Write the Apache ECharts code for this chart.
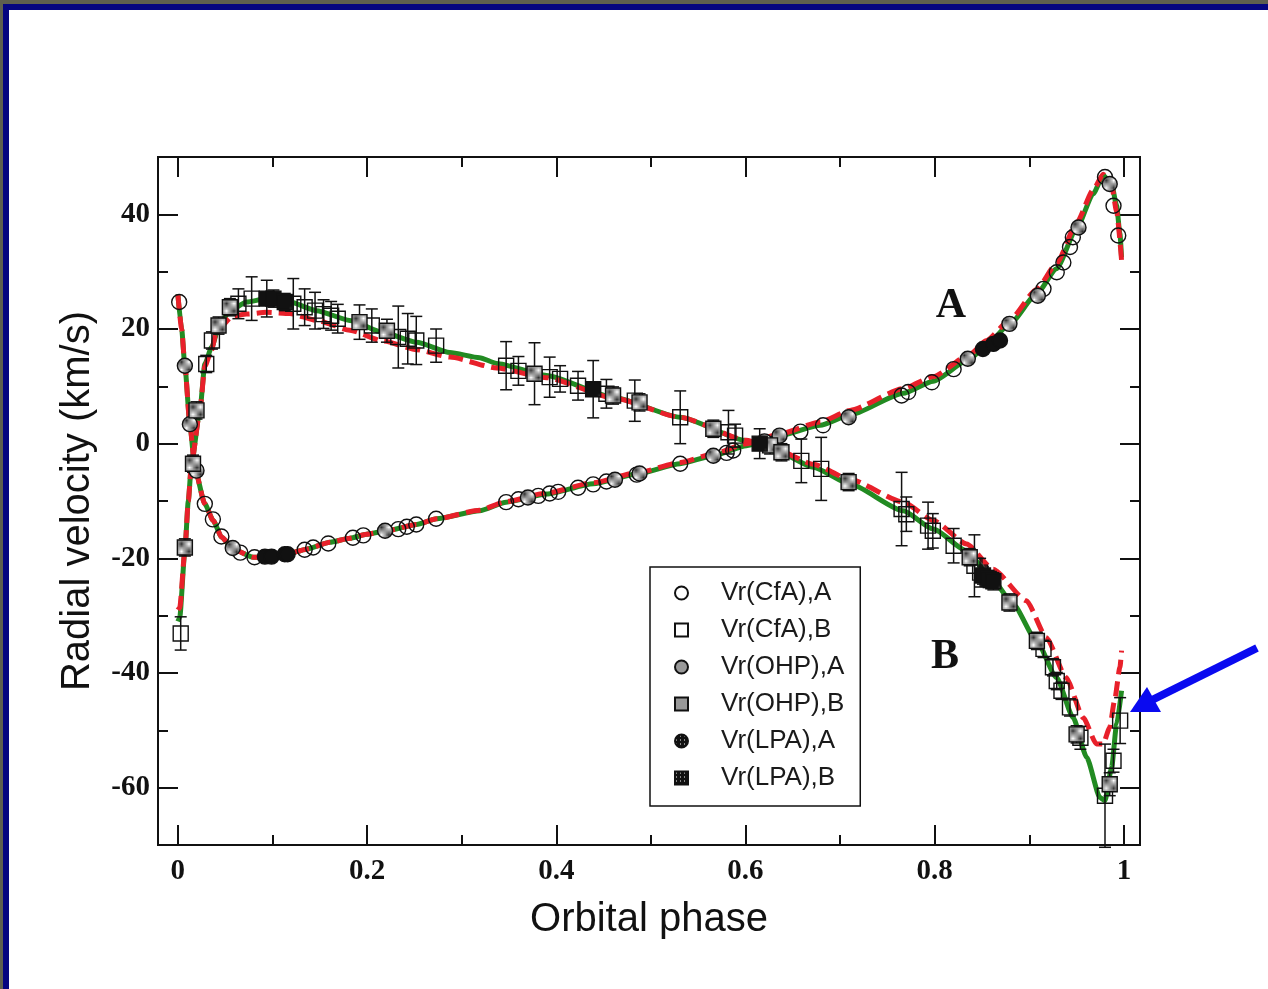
<!DOCTYPE html>
<html><head><meta charset="utf-8">
<script src="https://cdn.jsdelivr.net/npm/echarts@6/dist/echarts.min.js"></script>
<style>html,body{margin:0;padding:0;background:#fff}#c{width:1268px;height:989px}</style>
</head><body><div id="c"></div>
<script>
// ---- axis ticks ----
const xMajor = [0, 0.2, 0.4, 0.6, 0.8, 1];
const xMinor = [0.1, 0.3, 0.5, 0.7, 0.9];
const yMajor = [-60, -40, -20, 0, 20, 40];
const yMinor = [-50, -30, -10, 10, 30];

// ---- model curves [phase, km/s] ----
const fitA_green = [[0,26],[0.004,20],[0.0074,13.6],[0.0127,3.4],[0.018,-4.4],[0.0285,-10.5],[0.0373,-13.4],[0.0462,-16.3],[0.0585,-18.4],[0.0796,-19.8],[0.0955,-19.7],[0.1149,-19.3],[0.136,-18.4],[0.1607,-17.2],[0.1818,-16.5],[0.1994,-15.8],[0.2206,-15.2],[0.2523,-14.1],[0.2734,-13.1],[0.319,-11.7],[0.347,-10.2],[0.3897,-8.8],[0.439,-7.0],[0.4849,-5.3],[0.531,-3.5],[0.5658,-2.1],[0.601,-0.35],[0.6364,1.4],[0.679,3.2],[0.7104,5.0],[0.7667,8.8],[0.7985,10.9],[0.8372,14.8],[0.8548,17.2],[0.8795,20.9],[0.9077,26.1],[0.9288,30.5],[0.95,37.5],[0.9676,43.6],[0.9781,46.8],[0.987,45.3],[0.9923,41.5],[0.9958,36.6],[0.9975,32.5]];
const fitA_red = [[0,26],[0.004,20],[0.0074,13.6],[0.0127,3.4],[0.018,-4.4],[0.0285,-10.5],[0.0373,-13.4],[0.0462,-16.3],[0.0585,-18.4],[0.0796,-19.8],[0.0955,-19.7],[0.1149,-19.3],[0.136,-18.4],[0.1607,-17.2],[0.1818,-16.5],[0.1994,-15.8],[0.2206,-15.2],[0.2523,-14.1],[0.2734,-13.1],[0.319,-11.6],[0.347,-10.1],[0.3897,-8.6],[0.439,-6.8],[0.4849,-5.1],[0.531,-3.3],[0.5658,-1.8],[0.601,0.0],[0.6364,1.7],[0.679,3.8],[0.7104,5.8],[0.7667,9.6],[0.7985,11.7],[0.8372,15.6],[0.8548,18.0],[0.8795,21.6],[0.9077,26.9],[0.9288,31.4],[0.95,38.5],[0.9676,44.3],[0.9781,47.0],[0.987,45.0],[0.9923,40.5],[0.9975,32.0]];
const fitB_green = [[0,-31],[0.002,-30.3],[0.0074,-18.7],[0.011,-10],[0.0144,-3.5],[0.0233,5.8],[0.0285,13.9],[0.0356,16.8],[0.0444,20.9],[0.055,23.2],[0.0726,24.7],[0.0937,25.3],[0.1184,24.7],[0.1466,23.2],[0.1818,21.5],[0.217,19.4],[0.2523,17.7],[0.2875,15.9],[0.319,15.0],[0.3369,14.0],[0.3897,11.9],[0.46,8.1],[0.531,4.6],[0.601,0.5],[0.6364,-1.6],[0.6716,-4.1],[0.71,-7.0],[0.7667,-11.7],[0.7985,-14.9],[0.8337,-18.7],[0.8618,-23.9],[0.883,-28],[0.9077,-34.4],[0.9288,-40.8],[0.9464,-47.8],[0.9606,-54.7],[0.9746,-61.7],[0.98,-62.3],[0.987,-56.5],[0.9923,-48.9],[0.9975,-43.1]];
const fitB_red = [[0,-29],[0.002,-28.6],[0.0074,-18.7],[0.011,-10],[0.0144,-3.5],[0.0233,5.8],[0.0285,13.5],[0.0356,16.3],[0.041,19.7],[0.0585,22.3],[0.0726,22.6],[0.0937,22.9],[0.1184,22.7],[0.1466,21.5],[0.1818,19.8],[0.217,17.9],[0.2523,16.4],[0.2875,15.1],[0.3369,13.2],[0.3897,11.5],[0.46,8.0],[0.531,4.6],[0.601,0.6],[0.6364,-1.3],[0.6716,-3.6],[0.71,-6.2],[0.7667,-10.2],[0.7985,-13.4],[0.8337,-17.5],[0.8618,-21.9],[0.897,-27.4],[0.918,-33.8],[0.939,-40.8],[0.957,-47.8],[0.971,-52.4],[0.978,-52.4],[0.985,-49.5],[0.990,-44.9],[0.9958,-39],[0.9975,-36.1]];

// ---- observations [phase, km/s, error] ----
const cfaA = [[0.0014,24.7],[0.0285,-10.5],[0.037,-13.2],[0.046,-16.2],[0.066,-19],[0.081,-19.8],[0.134,-18.5],[0.143,-18.1],[0.159,-17.4],[0.185,-16.4],[0.196,-16],[0.233,-14.9],[0.242,-14.5],[0.252,-14.1],[0.273,-13.1],[0.347,-10.2],[0.36,-9.7],[0.381,-9.1],[0.393,-8.7],[0.402,-8.4],[0.423,-7.7],[0.439,-7.1],[0.453,-6.6],[0.485,-5.4],[0.531,-3.5],[0.58,-1.6],[0.587,-1.2],[0.658,2.1],[0.682,3.2],[0.765,8.4],[0.772,9.0],[0.797,10.7],[0.82,13.0],[0.915,27.0],[0.929,29.9],[0.936,31.6],[0.943,34.3],[0.946,36.0],[0.98,46.5],[0.989,41.5],[0.994,36.3]];
const ohpA = [[0.0074,13.6],[0.0127,3.4],[0.0197,-4.7],[0.058,-18.2],[0.219,-15.2],[0.37,-9.4],[0.462,-6.3],[0.488,-5.2],[0.566,-2.1],[0.62,0.4],[0.636,1.4],[0.709,4.6],[0.835,14.8],[0.879,20.9],[0.909,25.8],[0.952,37.7],[0.985,45.3]];
const lpaA = [[0.092,-19.7],[0.099,-19.7],[0.113,-19.3],[0.116,-19.3],[0.851,16.5],[0.862,17.4],[0.869,18.0]];
const cfaB = [[0.003,-33.1,2.9],[0.030,13.9,1.5],[0.036,18,1.5],[0.064,24.4,2.6],[0.078,25.3,3.8],[0.122,24.4,4.4],[0.134,23.8,3.2],[0.145,23.2,3.2],[0.154,22.6,2.5],[0.162,22.3,2.5],[0.169,21.8,2.5],[0.205,20.6,2.9],[0.233,18.6,5.4],[0.243,18.3,4.4],[0.252,18.0,4.2],[0.273,17.1,2.9],[0.347,13.6,4.2],[0.36,12.7,2.5],[0.393,11.6,3.5],[0.404,11.3,2.3],[0.423,10.1,2.5],[0.453,8.7,2.5],[0.483,7.5,3.6],[0.531,4.6,4.6],[0.582,2.0,3.8],[0.589,1.4,2.0],[0.659,-3.0,3.8],[0.68,-4.4,5.5],[0.765,-11.4,6.4],[0.770,-12.3,3.0],[0.793,-14.3,4.1],[0.798,-15.2,3.0],[0.820,-17.8,3.0],[0.842,-21.3,5.4],[0.848,-22.5,2.5],[0.915,-35.8,1.5],[0.925,-39,1.5],[0.929,-41.4,1.5],[0.934,-43.1,1.5],[0.943,-46,1.5],[0.954,-51.3,2],[0.980,-61.4,9],[0.989,-55.3,2],[0.996,-48.3,4]];
const ohpB = [[0.0074,-18.1,1.5],[0.016,-3.5,1.5],[0.0197,5.8,1.5],[0.043,20.6,1.5],[0.055,23.8,1.5],[0.192,21.2,3.0],[0.221,19.7,2.0],[0.377,12.2,5.4],[0.46,8.4,1.5],[0.488,7.2,1.5],[0.566,2.6,1.5],[0.626,-0.3,1.5],[0.638,-1.5,1.5],[0.709,-6.7,1.5],[0.837,-19.8,1.5],[0.879,-27.7,1.5],[0.908,-34.4,1.5],[0.950,-50.7,1.5],[0.985,-59.4,2]];
const lpaB = [[0.094,25.3,3.2],[0.101,25.3,1.5],[0.113,24.7,1.5],[0.439,9.5,5.0],[0.615,0,2.6],[0.851,-23.0,1.5],[0.857,-23.6,1.5],[0.862,-24.0,1.5]];

const seriesNames = ['Vr(CfA),A','Vr(CfA),B','Vr(OHP),A','Vr(OHP),B','Vr(LPA),A','Vr(LPA),B'];

// ---- fill patterns ----
function checker() {
  const c = document.createElement('canvas'); c.width = 2; c.height = 2;
  const g = c.getContext('2d'); g.fillStyle = '#fff'; g.fillRect(0,0,2,2);
  g.fillStyle = '#333'; g.fillRect(0,0,1,1); g.fillRect(1,1,1,1); return c;
}
function dotted() {
  const c = document.createElement('canvas'); c.width = 4; c.height = 4;
  const g = c.getContext('2d'); g.fillStyle = '#111'; g.fillRect(0,0,4,4);
  g.fillStyle = '#fff'; g.fillRect(1,1,1,1); return c;
}
const patGray = {image: checker(), repeat: 'repeat'};
const patDark = {image: dotted(), repeat: 'repeat'};

const chart = echarts.init(document.getElementById('c'), null, {renderer: 'canvas'});

const serif = 'Liberation Serif, Times New Roman, serif';
const sans = 'Liberation Sans, Arial, sans-serif';
const ink = '#111';

function xAx(pos, vals, len, labels) {
  return {type:'value', min:-0.021, max:1.017, position:pos,
    axisLine:{show:false, onZero:false}, splitLine:{show:false},
    axisTick:{show:true, inside:true, length:len, customValues:vals, lineStyle:{color:ink, width:2}},
    axisLabel: labels ? {show:true, customValues:vals, margin:12, color:ink, fontFamily:serif, fontWeight:'bold', fontSize:29,
      formatter: v => String(Math.round(v*10)/10)} : {show:false}};
}
function yAx(pos, vals, len, labels) {
  return {type:'value', min:-70, max:50, position:pos,
    axisLine:{show:false, onZero:false}, splitLine:{show:false},
    axisTick:{show:true, inside:true, length:len, customValues:vals, lineStyle:{color:ink, width:2}},
    axisLabel: labels ? {show:true, customValues:vals, margin:8, color:ink, fontFamily:serif, fontWeight:'bold', fontSize:29,
      formatter: v => String(Math.round(v))} : {show:false}};
}

const xMain = xAx('bottom', xMajor, 20, true);
xMain.name = 'Orbital phase'; xMain.nameLocation = 'middle'; xMain.nameGap = 55;
xMain.nameTextStyle = {fontFamily: sans, fontSize: 40, color: ink};
const yMain = yAx('left', yMajor, 20, true);
yMain.name = 'Radial velocity (km/s)'; yMain.nameLocation = 'middle'; yMain.nameGap = 60;
yMain.nameTextStyle = {fontFamily: sans, fontSize: 40, color: ink};

function errBars(data, name) {
  return {type:'custom', name: name + ' err', data: data, encode:{x:0, y:1}, z:3, silent:true,
    renderItem(params, api) {
      const x = api.value(0), y = api.value(1), e = api.value(2);
      const t = api.coord([x, y + e]), b = api.coord([x, y - e]);
      const w = 6, st = {stroke: ink, lineWidth: 1.5};
      return {type:'group', children:[
        {type:'line', shape:{x1:t[0], y1:t[1], x2:b[0], y2:b[1]}, style:st},
        {type:'line', shape:{x1:t[0]-w, y1:t[1], x2:t[0]+w, y2:t[1]}, style:st},
        {type:'line', shape:{x1:b[0]-w, y1:b[1], x2:b[0]+w, y2:b[1]}, style:st}
      ]};
    }};
}
function curve(data, color, dashed) {
  return {type:'line', data: data, showSymbol:false, smooth:0.2, smoothMonotone:'x', z: dashed ? 2 : 1, silent:true,
    lineStyle:{color: color, width: 5, type: dashed ? [15, 7] : 'solid', cap:'butt'}};
}
function pts(name, data, symbol, size, fill) {
  return {type:'scatter', name: name, data: data, symbol: symbol, symbolSize: size, z:4,
    encode:{x:0, y:1},
    itemStyle:{color: fill, borderColor: ink, borderWidth: 1.4, opacity: 1}};
}

const clear = 'rgba(255,255,255,0)';

chart.setOption({
  animation: false,
  backgroundColor: '#ffffff',
  grid: {left:158, top:157, width:982, height:688, show:true, borderColor: ink, borderWidth: 2, backgroundColor:'#fff'},
  xAxis: [xMain, xAx('bottom', xMinor, 10, false), xAx('top', xMajor, 20, false), xAx('top', xMinor, 10, false)],
  yAxis: [yMain, yAx('left', yMinor, 10, false), yAx('right', yMajor, 20, false), yAx('right', yMinor, 10, false)],
  legend: {
    show: true, orient:'vertical', left: 650, top: 567, selectedMode: false,
    data: seriesNames,
    itemWidth: 13, itemHeight: 13, itemGap: 11,
    padding: [13, 16, 15, 24],
    borderColor: ink, borderWidth: 1.5, backgroundColor:'#fff',
    textStyle: {fontFamily: sans, fontSize: 26, color: '#1a1a1a', lineHeight: 26, padding:[0,0,0,28]}
  },
  series: [
    curve(fitA_green, '#228b22', false),
    curve(fitB_green, '#228b22', false),
    curve(fitA_red, '#e8202a', true),
    curve(fitB_red, '#e8202a', true),
    errBars(cfaB, 'Vr(CfA),B'),
    errBars(ohpB, 'Vr(OHP),B'),
    errBars(lpaB, 'Vr(LPA),B'),
    pts('Vr(CfA),A', cfaA, 'circle', 15, clear),
    pts('Vr(CfA),B', cfaB, 'rect', 15, clear),
    pts('Vr(OHP),A', ohpA, 'circle', 15, patGray),
    pts('Vr(OHP),B', ohpB, 'rect', 15, patGray),
    pts('Vr(LPA),A', lpaA, 'circle', 15, patDark),
    pts('Vr(LPA),B', lpaB, 'rect', 15, patDark)
  ],
  graphic: [
    {type:'rect', shape:{x:0, y:0, width:1268, height:4}, style:{fill:'#5e5f4f'}, silent:true},
    {type:'rect', shape:{x:0, y:0, width:3, height:989}, style:{fill:'#5e5f4f'}, silent:true},
    {type:'rect', shape:{x:3, y:4, width:1265, height:6}, style:{fill:'#050580'}, silent:true},
    {type:'rect', shape:{x:3, y:4, width:6, height:985}, style:{fill:'#050580'}, silent:true},
    {type:'text', x:951, y:306, style:{text:'A', font:'bold 42px ' + serif, fill: ink, align:'center', verticalAlign:'middle'}, silent:true},
    {type:'text', x:945, y:657, style:{text:'B', font:'bold 42px ' + serif, fill: ink, align:'center', verticalAlign:'middle'}, silent:true},
    {type:'line', shape:{x1:1257, y1:648, x2:1152, y2:700}, style:{stroke:'#0a0af0', lineWidth:8}, silent:true},
    {type:'polygon', shape:{points:[[1130,712],[1147,687],[1161,712]]}, style:{fill:'#0a0af0'}, silent:true}
  ]
});
</script></body></html>
